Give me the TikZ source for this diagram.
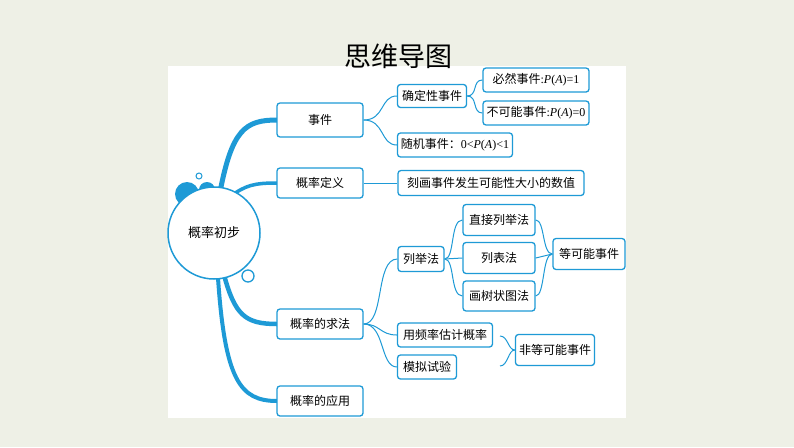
\documentclass[tikz,border=0pt]{standalone}
\usepackage{fontspec}
\setmainfont{Liberation Serif}
\newfontfamily\cjk{Noto Sans CJK SC}
\newcommand{\lat}[1]{{\rmfamily #1}}
\definecolor{mb}{HTML}{1E9AD6}
\definecolor{bgc}{HTML}{EEF0E6}
\begin{document}
\begin{tikzpicture}[x=1pt,y=-1pt,
  bx/.style={draw=mb,line width=1.3pt,rounded corners=3pt,fill=white,font=\cjk\fontsize{12}{13}\selectfont,inner sep=0pt},
  ln/.style={draw=mb,line width=1pt},
  th/.style={draw=mb,line width=3.5pt}]
\fill[bgc] (0,0) rectangle (794,447);
\fill[white] (168,66) rectangle (626,418);
\node[font=\cjk\fontsize{27}{30}\selectfont] (title) at (398,56) {思维导图};
% decorations
\fill[mb] (187,194) circle (12);
\fill[mb] (207,190) circle (8);
\draw[mb,line width=1pt] (199,176) circle (3);
\draw[mb,line width=1.3pt,fill=white] (248,276) circle (6);
% main branches
\draw[th,line width=5pt] (220,192) .. controls (232,130) and (245,120) .. (277,120);
\draw[th] (230,197) .. controls (245,185) and (255,183) .. (277,183);
\draw[th,line width=4.5pt] (224,275) .. controls (235,315) and (245,324) .. (277,324);
\draw[th,line width=4pt] (218,278) .. controls (225,380) and (240,401) .. (277,401);
\node[draw=mb,line width=1.5pt,circle,minimum size=92pt,fill=white,font=\cjk\fontsize{13}{14}\selectfont] (root) at (214,233) {概率初步};
\node[bx,minimum width=86pt,minimum height=34pt] (sj) at (320,120) {事件};
\node[bx,minimum width=86pt,minimum height=30pt] (dy) at (320,183) {概率定义};
\node[bx,minimum width=86pt,minimum height=30pt] (qf) at (320,324) {概率的求法};
\node[bx,minimum width=86pt,minimum height=30pt] (yy) at (320,401) {概率的应用};
\node[bx,minimum width=69pt,minimum height=23pt] (qd) at (432,96) {确定性事件};
\node[bx,minimum width=115pt,minimum height=24pt] (sjj) at (455,145) {随机事件：\lat{0<\textit{P}(\textit{A})<1}};
\node[bx,minimum width=106pt,minimum height=24pt] (br) at (536,80) {必然事件\lat{:\textit{P}(\textit{A})=1}};
\node[bx,minimum width=106pt,minimum height=24pt] (bk) at (536,113) {不可能事件\lat{:\textit{P}(\textit{A})=0}};
\node[bx,minimum width=186pt,minimum height=25pt] (kh) at (491,183) {刻画事件发生可能性大小的数值};
\node[bx,minimum width=72pt,minimum height=31pt] (zj) at (499,220) {直接列举法};
\node[bx,minimum width=72pt,minimum height=31pt] (lb) at (499,258) {列表法};
\node[bx,minimum width=72pt,minimum height=30pt] (hs) at (499,296) {画树状图法};
\node[bx,minimum width=46pt,minimum height=25pt] (lj) at (421,259) {列举法};
\node[bx,minimum width=72pt,minimum height=31pt] (dk) at (589,254) {等可能事件};
\node[bx,minimum width=95pt,minimum height=24pt] (pl) at (445,335) {用频率估计概率};
\node[bx,minimum width=59pt,minimum height=24pt] (mn) at (427,367) {模拟试验};
\node[bx,minimum width=79pt,minimum height=31pt] (fd) at (555,350) {非等可能事件};
% thin connectors
\draw[ln] (sj.east) .. controls (385,120) and (380,96) .. (qd.west);
\draw[ln] (sj.east) .. controls (385,120) and (380,145) .. (sjj.west);
\draw[ln] (qd.east) .. controls (478,96) and (472,80) .. (br.west);
\draw[ln] (qd.east) .. controls (478,96) and (472,113) .. (bk.west);
\draw[ln] (dy.east) -- (kh.west);
\draw[ln] (qf.east) .. controls (385,324) and (375,259) .. (lj.west);
\draw[ln] (qf.east) .. controls (380,324) and (380,335) .. (pl.west);
\draw[ln] (qf.east) .. controls (385,324) and (380,367) .. (mn.west);
\draw[ln] (lj.east) .. controls (455,259) and (450,220) .. (zj.west);
\draw[ln] (lj.east) -- (lb.west);
\draw[ln] (lj.east) .. controls (455,259) and (450,296) .. (hs.west);
\draw[ln] (zj.east) .. controls (545,220) and (542,254) .. (dk.west);
\draw[ln] (lb.east) -- (dk.west);
\draw[ln] (hs.east) .. controls (545,296) and (542,254) .. (dk.west);
\coordinate (fa) at (500,336);
\coordinate (fb) at (500,366);
\draw[ln] (fa) .. controls (508,336) and (508,350) .. (fd.west);
\draw[ln] (fb) .. controls (508,366) and (508,350) .. (fd.west);
\end{tikzpicture}
\end{document}
